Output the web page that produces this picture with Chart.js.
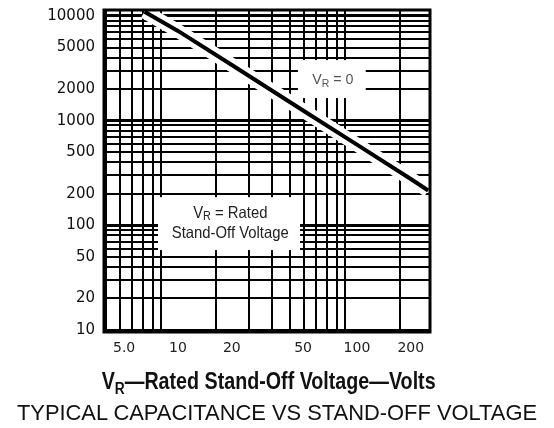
<!DOCTYPE html>
<html>
<head>
<meta charset="utf-8">
<script src="https://cdn.jsdelivr.net/npm/chart.js@4.4.1/dist/chart.umd.min.js"></script>
<style>
  html, body { margin: 0; padding: 0; background: #fff; }
  #wrap { position: relative; width: 554px; height: 428px; overflow: hidden; }
  #chart { position: absolute; left: 0; top: 0; }
  .axis-title {
    position: absolute; left: 0; width: 537px; top: 368px;
    text-align: center; color: #111; line-height: 26px; white-space: nowrap;
    font-family: 'Liberation Sans', Arial, sans-serif;
    font-weight: bold; font-size: 24px;
  }
  .axis-title span { display: inline-block; transform: scaleX(0.82); transform-origin: 50% 50%; }
  .axis-title sub { font-size: 70%; vertical-align: -0.3em; line-height: 0; }
  .caption {
    position: absolute; left: 0; width: 554px; top: 400px;
    text-align: center; color: #111; line-height: 26px; white-space: nowrap;
    font-family: 'Liberation Sans', Arial, sans-serif; font-size: 21.9px;
  }
</style>
</head>
<body>
<div id="wrap">
  <canvas id="chart" width="554" height="428"></canvas>
  <div class="axis-title"><span>V<sub>R</sub>—Rated Stand-Off Voltage—Volts</span></div>
  <div class="caption">TYPICAL CAPACITANCE VS STAND-OFF VOLTAGE</div>
</div>
<script>
// curve (volts -> capacitance)
const voltage = [6.5, 10, 20, 50, 100, 200, 250];
const capacitance = [11000, 7200, 3400, 1250, 590, 277, 215];

// labelled ticks
const xTickValues = [5, 10, 20, 50, 100, 200];
const xTickLabels = ['5.0', '10', '20', '50', '100', '200'];
const yTickValues = [10, 20, 50, 100, 200, 500, 1000, 2000, 5000, 10000];

// printed log paper lines
const xGridValues = [5, 6, 7, 8, 9, 10, 20, 30, 40, 50, 60, 70, 80, 90, 100, 200];
const yGridValues = [
  10, 20, 30, 40, 50, 60, 70, 80, 90,
  100, 200, 300, 400, 500, 600, 700, 800, 900,
  1000, 2000, 3000, 4000, 5000, 6000, 7000, 8000, 9000, 10000
];

const points = voltage.map((v, i) => ({ x: v, y: capacitance[i] }));

// white boxes with text, in data coordinates
const notes = [
  {
    box: [46.8, 112, 3790, 1645],
    x: 73.4,
    lines: [{ y: 2443, parts: ['V', 'R', ' = 0'] }],
    size: 15, sx: 0.95, color: '#555'
  },
  {
    box: [7.73, 48.1, 186, 58],
    x: 19.6,
    lines: [
      { y: 131, parts: ['V', 'R', ' = Rated'] },
      { y: 84.4, parts: ['Stand-Off Voltage'] }
    ],
    size: 16.5, sx: 0.9, color: '#222'
  }
];

const FONT = "'Liberation Sans', Arial, sans-serif";

function drawParts(ctx, parts, cx, cy, size, sx) {
  const big = size + 'px ' + FONT;
  const small = Math.round(size * 0.7) + 'px ' + FONT;
  const isSub = i => parts.length > 1 && i === 1;
  const widths = parts.map((p, i) => {
    ctx.font = isSub(i) ? small : big;
    return ctx.measureText(p).width;
  });
  ctx.save();
  ctx.translate(cx, cy);
  ctx.scale(sx, 1);
  let x = -widths.reduce((a, b) => a + b, 0) / 2;
  parts.forEach((p, i) => {
    ctx.font = isSub(i) ? small : big;
    ctx.fillText(p, x, isSub(i) ? size * 0.25 : 0);
    x += widths[i];
  });
  ctx.restore();
}

const notesPlugin = {
  id: 'notes',
  afterDatasetsDraw(chart) {
    const { ctx, chartArea: a, scales } = chart;
    const xs = scales.x, ys = scales.y;
    ctx.save();
    notes.forEach(n => {
      const x0 = xs.getPixelForValue(n.box[0]);
      const x1 = xs.getPixelForValue(n.box[1]);
      const y0 = ys.getPixelForValue(n.box[2]);
      const y1 = ys.getPixelForValue(n.box[3]);
      ctx.fillStyle = '#fff';
      ctx.fillRect(x0, y0, x1 - x0, y1 - y0);
      ctx.fillStyle = n.color;
      ctx.textBaseline = 'middle';
      ctx.textAlign = 'left';
      n.lines.forEach(l => {
        drawParts(ctx, l.parts, xs.getPixelForValue(n.x), ys.getPixelForValue(l.y), n.size, n.sx);
      });
    });
    // frame
    ctx.strokeStyle = '#000';
    ctx.lineWidth = 3;
    ctx.strokeRect(a.left, a.top, a.right - a.left, a.bottom - a.top);
    ctx.restore();
  }
};

new Chart(document.getElementById('chart'), {
  type: 'line',
  data: {
    datasets: [
      {
        data: points,
        borderColor: '#000',
        borderWidth: 4,
        pointRadius: 0,
        clip: 0,
        order: 1,
        xAxisID: 'x',
        yAxisID: 'y'
      },
      {
        data: points,
        borderColor: '#fff',
        borderWidth: 14,
        pointRadius: 0,
        clip: 0,
        order: 2,
        xAxisID: 'x',
        yAxisID: 'y'
      }
    ]
  },
  options: {
    responsive: false,
    animation: false,
    layout: { padding: { left: 0, top: 0, right: 124, bottom: 0 } },
    plugins: {
      legend: { display: false },
      tooltip: { enabled: false }
    },
    scales: {
      x: {
        type: 'logarithmic',
        position: 'bottom',
        min: 3.86,
        max: 256,
        grid: { display: false, drawTicks: false },
        border: { display: false },
        afterBuildTicks: s => { s.ticks = xTickValues.map(v => ({ value: v })); },
        afterFit: s => { s.height = 96; },
        ticks: {
          autoSkip: false,
          maxRotation: 0,
          padding: 8,
          color: '#222',
          font: { family: "'DejaVu Sans', sans-serif", size: 14 },
          callback: v => {
            const i = xTickValues.indexOf(v);
            return i >= 0 ? xTickLabels[i] : '';
          }
        }
      },
      paper: {
        type: 'logarithmic',
        position: 'top',
        min: 4.9,
        max: 290,
        afterBuildTicks: s => { s.ticks = xGridValues.map(v => ({ value: v })); },
        afterFit: s => { s.height = 10; },
        grid: { color: '#000', lineWidth: 2, drawTicks: false },
        border: { display: false },
        ticks: { display: false, autoSkip: false }
      },
      y: {
        type: 'logarithmic',
        min: 9.57,
        max: 11410,
        afterBuildTicks: s => { s.ticks = yGridValues.map(v => ({ value: v })); },
        afterFit: s => {
          s.width = 104;
          s.paddingTop = 0;
          s.paddingBottom = 0;
        },
        grid: {
          color: '#000',
          drawTicks: false,
          lineWidth: c => (c.tick && [10, 100, 1000, 10000].includes(c.tick.value)) ? 3 : 2
        },
        border: { display: false },
        ticks: {
          autoSkip: false,
          padding: 9,
          color: '#111',
          font: { family: "'DejaVu Sans', sans-serif", size: 15 },
          callback: v => yTickValues.includes(v) ? String(v) : ''
        }
      }
    }
  },
  plugins: [notesPlugin]
});
</script>
</body>
</html>
